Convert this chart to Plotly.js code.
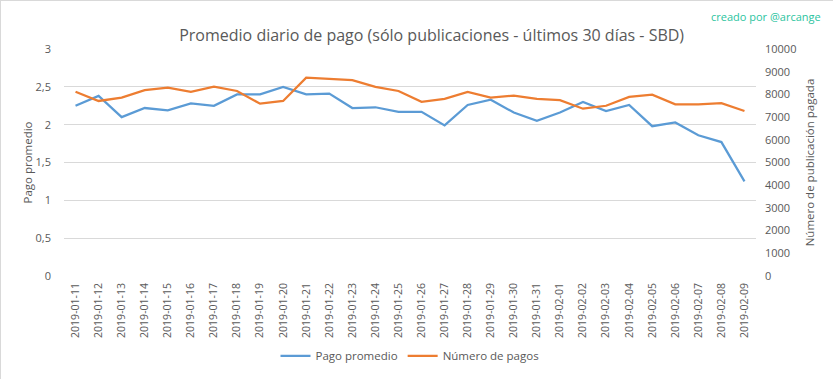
<!DOCTYPE html>
<html>
<head>
<meta charset="utf-8">
<script src="https://cdn.plot.ly/plotly-3.0.1.min.js"></script>
<style>
html,body{margin:0;padding:0;background:#fff;}
#chart{width:833px;height:379px;box-sizing:border-box;border:1px solid #d9d9d9;}
</style>
</head>
<body>
<div id="chart"></div>
<script>
const fechas = ["2019-01-11","2019-01-12","2019-01-13","2019-01-14","2019-01-15","2019-01-16","2019-01-17","2019-01-18","2019-01-19","2019-01-20",
"2019-01-21","2019-01-22","2019-01-23","2019-01-24","2019-01-25","2019-01-26","2019-01-27","2019-01-28","2019-01-29","2019-01-30",
"2019-01-31","2019-02-01","2019-02-02","2019-02-03","2019-02-04","2019-02-05","2019-02-06","2019-02-07","2019-02-08","2019-02-09"];
const pagoPromedio = [2.25,2.38,2.10,2.22,2.19,2.28,2.25,2.40,2.40,2.50,
2.40,2.41,2.22,2.23,2.17,2.17,1.99,2.26,2.33,2.16,
2.05,2.16,2.30,2.18,2.26,1.98,2.03,1.86,1.77,1.25];
const numeroPagos = [8120,7710,7860,8190,8300,8110,8340,8150,7590,7710,
8740,8700,8630,8330,8150,7670,7800,8110,7860,7950,
7800,7750,7370,7500,7890,7990,7560,7560,7610,7270];
const ticksIzq = [0,0.5,1,1.5,2,2.5,3];
const ticksIzqTxt = ["0","0,5","1","1,5","2","2,5","3"];
const ticksDer = [0,1000,2000,3000,4000,5000,6000,7000,8000,9000,10000];
const ticksDerTxt = ["0","1000","2000","3000","4000","5000","6000","7000","8000","9000","10000"];

const gris = "#595959";
const fam = "Open Sans, sans-serif";
const fnt = {family:fam, size:11, color:gris};

const data = [
 {x:fechas, y:pagoPromedio, type:"scatter", mode:"lines", name:"Pago promedio",
  line:{color:"#5b9bd5", width:2.25}, yaxis:"y"},
 {x:fechas, y:numeroPagos, type:"scatter", mode:"lines", name:"Número de pagos",
  line:{color:"#ed7d31", width:2.25}, yaxis:"y2"}
];

const layout = {
 width:833, height:379,
 margin:{l:63, r:78, t:48, b:104, autoexpand:false},
 paper_bgcolor:"#fff", plot_bgcolor:"#fff",
 font:fnt,
 title:{text:"Promedio diario de pago (sólo publicaciones - últimos 30 días - SBD)",
  font:{family:fam, size:16, color:gris}, x:0.517, xanchor:"center", y:0.91, yanchor:"middle"},
 xaxis:{type:"category", range:[-0.5,29.5], tickangle:-90, showgrid:false, showline:false, automargin:false,
  ticks:"", ticklabelstandoff:4, tickfont:{family:fam, size:10.5, color:gris}},
 yaxis:{range:[0,3], tickvals:ticksIzq, ticktext:ticksIzqTxt, gridcolor:"#d9d9d9", gridwidth:1, automargin:false,
  zeroline:false, showline:false, ticks:"", ticklabelstandoff:12,
  title:{text:"Pago promedio", font:{family:fam, size:11.5, color:gris}, standoff:0}},
 yaxis2:{range:[0,10000], tickvals:ticksDer, ticktext:ticksDerTxt, overlaying:"y", side:"right", showgrid:false, automargin:false,
  zeroline:false, showline:false, ticks:"", ticklabelstandoff:8,
  title:{text:"Número de publicación pagada", font:{family:fam, size:11.5, color:gris}, standoff:10}},
 showlegend:true,
 legend:{orientation:"h", x:0.5, xanchor:"center", y:-0.352, yanchor:"middle",
  font:{family:fam, size:11.5, color:gris}, itemwidth:30},
 annotations:[{text:"creado por @arcange", xref:"paper", yref:"paper", x:1.097, y:1.141,
  xanchor:"right", yanchor:"middle", showarrow:false,
  font:{family:fam, size:11, color:"#2bc4a0"}}]
};

Plotly.newPlot("chart", data, layout, {displayModeBar:false, staticPlot:true});
</script>
</body>
</html>
